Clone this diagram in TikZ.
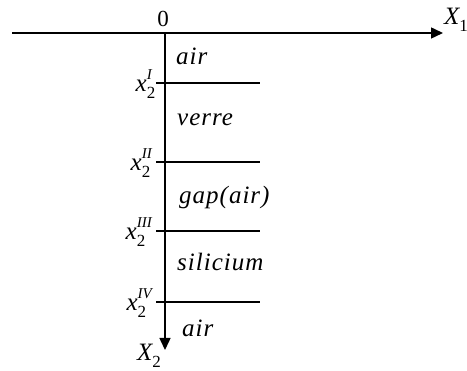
\documentclass[tikz,border=0pt]{standalone}
\usepackage{fontspec}
\setmainfont{Liberation Serif}
\newfontfamily\layerfont[LetterSpace=4]{Liberation Serif}
\usetikzlibrary{arrows.meta, positioning}

% index label x_2 with a roman superscript
\newcommand{\ifacelbl}[1]{{\itshape x}\rlap{\raisebox{-0.6ex}{\fontsize{17}{18}\selectfont 2}}\raisebox{1.0ex}{\fontsize{15}{16}\selectfont\itshape #1}}

\begin{document}
\begin{tikzpicture}[
        x=1pt, y=-1pt,
        axis/.style={-{Triangle[length=12pt, width=11pt]}, line width=1.5pt},
        layer/.style={line width=1.2pt},
        every node/.style={inner sep=0pt, font=\fontsize{25}{27}\selectfont}
    ]

    \tikzset{
    medium/.style={anchor=west, font=\layerfont\itshape\fontsize{25}{27}\selectfont},
    iface/.style={anchor=east}
}

    \useasboundingbox (0,0) rectangle (467,371);

    % axes
    \coordinate (W) at (12,33);
    \coordinate (O) at (165,33);
    \coordinate (E) at (443,33);
    \coordinate (S) at (165,350);

    \draw[axis] (W) -- (E);
    \draw[axis] (O) -- (S);

    \node (zero) [font=\fontsize{23}{25}\selectfont] at (163,19) {0};
    \node (xone) [anchor=west] at (444,20) {{\itshape X}\raisebox{-0.6ex}{\fontsize{17}{18}\selectfont 1}};
    \node (xtwo) at (149,356) {{\itshape X}\raisebox{-0.6ex}{\fontsize{17}{18}\selectfont 2}};

    % interfaces
    \coordinate (a1) at (156,83);  \coordinate (b1) at (260,83);
    \coordinate (a2) at (156,162); \coordinate (b2) at (260,162);
    \coordinate (a3) at (156,231); \coordinate (b3) at (260,231);
    \coordinate (a4) at (156,302); \coordinate (b4) at (260,302);

    \draw[layer] (a1) -- (b1);
    \draw[layer] (a2) -- (b2);
    \draw[layer] (a3) -- (b3);
    \draw[layer] (a4) -- (b4);

    \node (i1) [iface] at (152,84) {\ifacelbl{I}};
    \node (i2) [iface] at (152,163) {\ifacelbl{II}};
    \node (i3) [iface] at (152,232) {\ifacelbl{III}};
    \node (i4) [iface] at (152,303) {\ifacelbl{IV}};

    % media
    \node (air) [medium] at (176,56) {air};
    \node (verre) [medium] at (177,120) {verre};
    \node (gap) [medium] at (179,197) {gap(air)};
    \node (silicium) [medium] at (177,262) {silicium};
    \node (airbas) [medium] at (182,328) {air};
    \end{tikzpicture}
\end{document}
